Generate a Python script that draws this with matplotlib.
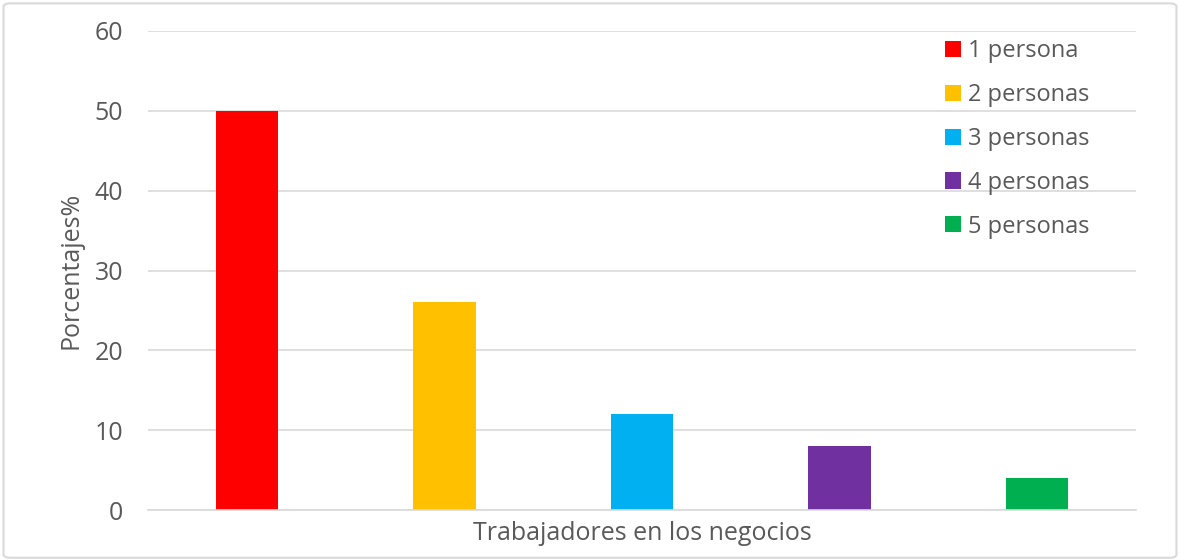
import matplotlib
matplotlib.use("Agg")
import matplotlib.pyplot as plt
from matplotlib.patches import FancyBboxPatch

categories = ["1 persona", "2 personas", "3 personas", "4 personas", "5 personas"]
values = [50, 26, 12, 8, 4]
colors = ["#FF0000", "#FFC000", "#00B0F0", "#7030A0", "#00B050"]
yticks = [0, 10, 20, 30, 40, 50, 60]
xlabel = "Trabajadores en los negocios"
ylabel = "Porcentajes%"

plt.rcParams['font.family'] = ['Open Sans', 'DejaVu Sans']
txt = "#595959"

fig = plt.figure(figsize=(11.8, 5.6), dpi=100)
# outer border
border = FancyBboxPatch((0.003, 0.004), 0.994, 0.99, boxstyle="round,pad=0,rounding_size=0.006",
                        transform=fig.transFigure, fill=False, edgecolor="#D9D9D9", linewidth=1.5)
fig.patches.append(border)

ax = fig.add_axes([148/1180, 1-510/560, 988/1180, 479/560])
for i, (c, v, col) in enumerate(zip(categories, values, colors)):
    ax.bar(i, v, width=0.315, color=col, label=c, zorder=2)

ax.set_xlim(-0.5, 4.5)
ax.set_ylim(0, 60)
ax.set_yticks(yticks)
ax.set_yticklabels([str(t) for t in yticks], fontsize=18, color=txt)
ax.set_xticks([])
ax.tick_params(axis='y', length=0, pad=18)
ax.yaxis.grid(True, color="#D9D9D9", linewidth=1.2, zorder=0)
ax.set_axisbelow(True)
for s in ["top", "right", "left"]:
    ax.spines[s].set_visible(False)
ax.spines["bottom"].set_color("#D9D9D9")
ax.spines["bottom"].set_linewidth(1.2)
ax.set_xlabel(xlabel, fontsize=18, color=txt, labelpad=8)
ax.set_ylabel(ylabel, fontsize=18, color=txt, labelpad=8)

leg = ax.legend(loc="upper left", bbox_to_anchor=(776/988, 1.027), frameon=False,
                fontsize=17, handlelength=0.68, handleheight=0.68, handletextpad=0.3,
                labelspacing=0.84, labelcolor=txt)

fig.savefig("out.png", dpi=100, facecolor="white")
